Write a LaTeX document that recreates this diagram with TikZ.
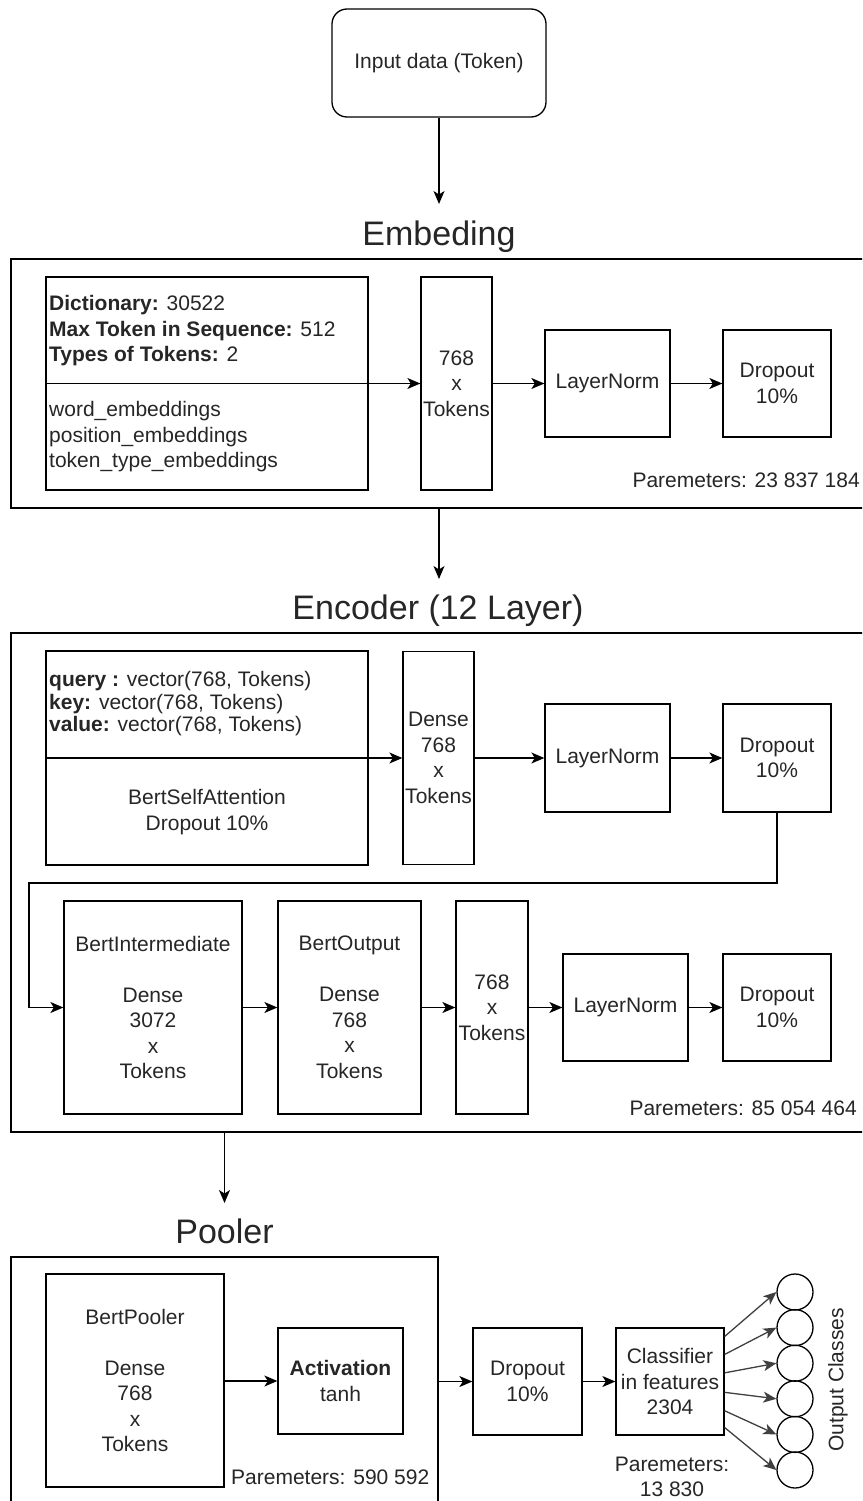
\documentclass[tikz,border=0pt]{standalone}
\usepackage{fontspec}
\setmainfont{Liberation Sans}
\usetikzlibrary{arrows.meta,calc}
\newcommand\bodyf{\fontsize{21}{25.5}\selectfont}
\newcommand\tightf{\fontsize{21}{22.5}\selectfont}
\newcommand\titlef{\fontsize{34}{40}\selectfont}
\begin{document}
\begin{tikzpicture}[x=1pt,y=-1pt,
  box/.style={draw, line width=1.3pt, inner sep=0pt, font=\bodyf, align=center, text=black!85},
  arr/.style={-{Stealth[length=13pt,width=11pt,inset=3.5pt]}, line width=1.3pt},
  garr/.style={-{Stealth[length=13pt,width=11pt,inset=3.5pt]}, line width=1.3pt, draw=black!75, fill=black!75},
  txt/.style={font=\bodyf, inner sep=0pt, text=black!85},
  ttl/.style={font=\titlef, inner sep=0pt, anchor=base, text=black!85},
  oc/.style={circle, draw, line width=1.3pt, minimum size=36pt, inner sep=0pt}]
\useasboundingbox (0,0) rectangle (862,1501);
\clip (0,0) rectangle (862,1501);

% Input
\node[box, rounded corners=15pt, minimum width=214, minimum height=108] (inp) at (439,63) {Input data (Token)};
\coordinate (inpend) at (439,204);
\draw[arr] (inp.south) -- (inpend);
\node[ttl] (tEmb) at (439,245) {Embeding};

% Embedding
\node[box, minimum width=855, minimum height=249] (emb) at (438.5,383.5) {};
\node[box, minimum width=322, minimum height=213] (dict) at (207,383.5) {};
\node[txt, anchor=west, align=left] (dictA) at (49,331) {\textbf{Dictionary:} 30522\\\textbf{Max Token in Sequence:} 512\\\textbf{Types of Tokens:} 2};
\node[txt, anchor=west, align=left] (dictB) at (49,437) {word\_embeddings\\position\_embeddings\\token\_type\_embeddings};
\node[box, minimum width=71, minimum height=213] (e768) at (456.5,383.5) {768\\x\\Tokens};
\node[box, minimum width=125, minimum height=107] (eln) at (607.5,383.5) {LayerNorm};
\node[box, minimum width=108, minimum height=107] (edrop) at (777,383.5) {Dropout\\10\%};
\node[txt, anchor=east] (epar) at (860,480) {Paremeters: 23 837 184};
\draw[arr] (dict.west) -- (e768.west);
\draw[arr] (e768.east) -- (eln.west);
\draw[arr] (eln.east) -- (edrop.west);

\coordinate (embend) at (439,579);
\draw[arr] (emb.south -| inp.south) -- (embend);
\node[ttl] (tEnc) at (438,619) {Encoder (12 Layer)};

% Encoder
\node[box, minimum width=855, minimum height=499] (enc) at (438.5,882.5) {};
\node[box, minimum width=322, minimum height=214] (qkv) at (207,758) {};
\node[txt, anchor=west, align=left, font=\tightf] (qkvA) at (49,704) {\textbf{query :} vector(768, Tokens)\\\textbf{key:} vector(768, Tokens)\\\textbf{value:} vector(768, Tokens)};
\node[txt, align=center] (qkvB) at (207,812) {BertSelfAttention\\Dropout 10\%};
\node[box, minimum width=71, minimum height=213] (dense1) at (438.5,758) {Dense\\768\\x\\Tokens};
\node[box, minimum width=125, minimum height=108] (ln1) at (607.5,758) {LayerNorm};
\node[box, minimum width=108, minimum height=108] (dr1) at (777,758) {Dropout\\10\%};
\draw[arr] (qkv.west) -- (dense1.west);
\draw[arr] (dense1.east) -- (ln1.west);
\draw[arr] (ln1.east) -- (dr1.west);

\node[box, minimum width=178, minimum height=213] (bi) at (153,1007.5) {BertIntermediate\\[25.5pt]Dense\\3072\\x\\Tokens};
\node[box, minimum width=143, minimum height=213] (bo) at (349.5,1007.5) {BertOutput\\[25.5pt]Dense\\768\\x\\Tokens};
\node[box, minimum width=72, minimum height=213] (e768b) at (492,1007.5) {768\\x\\Tokens};
\node[box, minimum width=125, minimum height=107] (ln2) at (625.5,1007.5) {LayerNorm};
\node[box, minimum width=108, minimum height=107] (dr2) at (777,1007.5) {Dropout\\10\%};
\node[txt, anchor=east] (encpar) at (857,1108) {Paremeters: 85 054 464};
\coordinate (loop) at (29,883);
\draw[arr] (dr1.south) |- (loop) |- (bi.west);
\draw[arr] (bi.east) -- (bo.west);
\draw[arr] (bo.east) -- (e768b.west);
\draw[arr] (e768b.east) -- (ln2.west);
\draw[arr] (ln2.east) -- (dr2.west);

% Pooler
\node[box, minimum width=427, minimum height=283] (pool) at (224.5,1398.5) {};
\coordinate (encend) at (224.5,1203);
\draw[arr] (enc.south -| pool.north) -- (encend);
\node[ttl] (tPool) at (224.5,1243) {Pooler};
\node[box, minimum width=178, minimum height=213] (bp) at (135,1380.5) {BertPooler\\[25.5pt]Dense\\768\\x\\Tokens};
\node[box, minimum width=125, minimum height=106] (act) at (340.5,1381) {\textbf{Activation}\\tanh};
\node[txt, anchor=west] (ppar) at (231,1477) {Paremeters: 590 592};
\draw[arr] (bp.east |- act.west) -- (act.west);

\node[box, minimum width=109, minimum height=107] (dr3) at (527.5,1381.5) {Dropout\\10\%};
\node[box, minimum width=108, minimum height=107] (cls) at (670,1381.5) {Classifier\\in features\\2304};
\node[txt, align=center] (clspar) at (672,1477) {Paremeters:\\13 830};
\draw[arr] (pool.east |- dr3.west) -- (dr3.west);
\draw[arr] (dr3.east) -- (cls.west);

\node[oc] (o1) at (795,1292) {};
\node[oc] (o2) at (795,1327.6) {};
\node[oc] (o3) at (795,1363.2) {};
\node[oc] (o4) at (795,1398.8) {};
\node[oc] (o5) at (795,1434.4) {};
\node[oc] (o6) at (795,1470) {};
\draw[garr] ($(cls.north east)!0.084!(cls.south east)$) -- (o1.west);
\draw[garr] ($(cls.north east)!0.25!(cls.south east)$) -- (o2.west);
\draw[garr] ($(cls.north east)!0.42!(cls.south east)$) -- (o3.west);
\draw[garr] ($(cls.north east)!0.6!(cls.south east)$) -- (o4.west);
\draw[garr] ($(cls.north east)!0.77!(cls.south east)$) -- (o5.west);
\draw[garr] ($(cls.north east)!0.925!(cls.south east)$) -- (o6.west);
\node[txt, rotate=90] (outc) at (838,1380) {Output Classes};
\end{tikzpicture}
\end{document}
